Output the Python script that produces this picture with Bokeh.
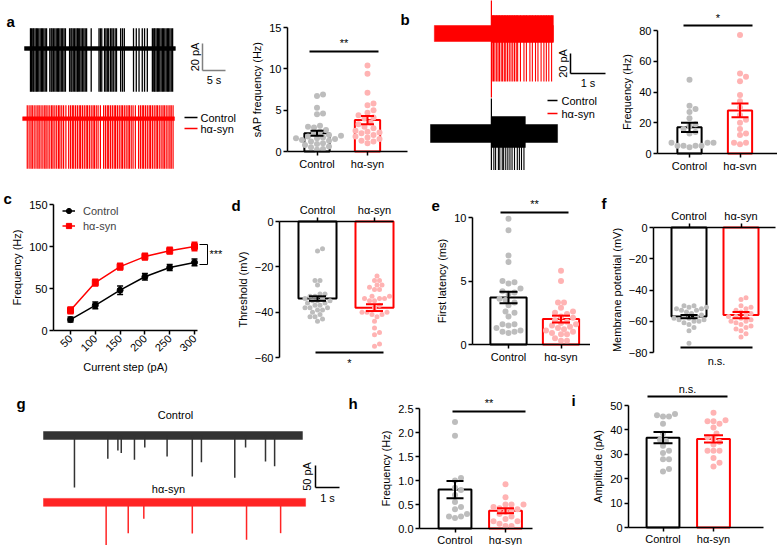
from math import pi
from bokeh.plotting import figure
from bokeh.layouts import column, row
from bokeh.models import (Range1d, Label, Whisker, TeeHead, ColumnDataSource,
                          FixedTicker, Legend, LegendItem, NumeralTickFormatter)
from bokeh.embed import file_html
from bokeh.resources import INLINE

FONT = "Liberation Sans"
BLACK = "#000000"
RED = "#ff0000"
GRAY = "#bdbdbd"
PINK = "#ffb3b3"
GROUPS = ["Control", "hα-syn"]

# ---------------- data ----------------
# a: spontaneous firing traces (s, pA)
a_ctrl_span = [0.0, 32.8]
a_ctrl_spikes = [1.3, 1.5, 1.8, 2.0, 2.3, 2.6, 2.8, 3.1, 3.4, 3.7, 3.9, 4.2, 4.5, 4.8,
                 5.5, 5.8, 6.0, 6.3, 6.6, 6.9, 7.2, 7.4, 7.7, 8.0, 8.3, 8.6, 8.9,
                 9.8, 10.1, 10.3, 10.6, 10.9, 11.2, 11.5, 11.7, 12.0, 12.3, 12.6, 12.9, 13.2, 13.5,
                 14.5,
                 16.2, 16.5, 16.8, 17.4, 17.7, 18.0, 18.3, 18.7, 19.0, 19.3, 19.7, 20.0,
                 20.9, 21.3, 21.7,
                 23.7, 24.3, 24.9, 25.6, 26.1, 26.7,
                 27.8, 28.1, 28.3, 28.6, 28.9, 29.1, 29.4, 29.7, 30.0, 30.2, 30.5, 30.8,
                 31.1, 31.3, 31.6, 31.9, 32.2]
a_ctrl_noise, a_ctrl_up, a_ctrl_down = 1.4, 15, -32
a_syn_span = [-0.4, 32.6]
a_syn_spikes = [0.6, 1.0, 1.4, 1.7, 2.1, 2.5, 2.9, 3.2, 3.6, 4.0, 4.4, 4.7, 5.1, 5.5, 5.9, 6.2,
                6.6, 7.0, 7.4, 7.7, 8.1, 8.5, 9.0,
                9.6, 10.0, 10.4, 10.7, 11.1, 11.5, 11.9, 12.2, 12.6, 13.0, 13.4, 13.7, 14.1,
                14.5, 14.9, 15.2, 15.6, 16.0, 16.5,
                17.2, 17.6, 18.0, 18.3, 18.7, 19.1, 19.5, 19.8, 20.2, 20.6, 21.0, 21.3, 21.7,
                22.1, 22.5, 22.8, 23.2, 23.6, 24.1,
                24.8, 25.2, 25.6, 25.9, 26.3, 26.7, 27.1, 27.4, 27.8, 28.2, 28.6, 28.9, 29.3,
                29.7, 30.1, 30.4, 30.8, 31.2, 31.6, 31.9, 32.3]
a_syn_noise, a_syn_up, a_syn_down = 1.4, 10, -37

# a: sAP frequency (Hz)
a_ctrl_vals = [6.9, 6.7, 5.3, 4.6, 4.5, 3.1, 3.0, 2.9, 2.6, 2.4, 2.2, 2.0, 1.9, 1.8, 1.7,
               1.6, 1.6, 1.5, 1.4, 1.3, 1.2, 1.0, 0.9, 0.8, 0.6, 0.5, 0.3, 0.2]
a_syn_vals = [10.4, 9.4, 7.1, 5.8, 5.6, 5.0, 4.7, 4.4, 4.1, 4.0, 3.5, 3.3, 3.0, 2.8, 2.5,
              2.4, 2.3, 2.2, 2.0, 1.8, 1.7, 1.5, 1.3, 1.2, 1.0]
a_mean = [2.2, 3.8]
a_sem = [0.3, 0.5]

# b: evoked firing traces (s, pA)
b_onset = 1.74
b_syn_span = [0.11, 3.51]
b_syn_noise = 8
b_syn_post_band = [-9, 18]
b_syn_spikes = [1.76, 1.80, 1.84, 1.89, 1.93, 1.97, 2.02, 2.06, 2.11, 2.15, 2.20, 2.25,
                2.30, 2.35, 2.40, 2.45, 2.49, 2.57, 2.67, 2.74, 2.84, 2.91, 3.00, 3.07,
                3.16, 3.24, 3.31, 3.38, 3.46]
b_syn_down = -48
b_syn_artifact = [-64, 40]
b_ctrl_span = [0.0, 3.63]
b_ctrl_noise = 9
b_ctrl_post_band = [-14, 17]
b_ctrl_post_end = 2.71
b_ctrl_spikes = [1.81, 1.86, 1.94, 1.98, 2.05, 2.09, 2.15, 2.21, 2.27, 2.33, 2.40, 2.48,
                 2.54, 2.60, 2.67]
b_ctrl_up, b_ctrl_down = 14, -42
b_ctrl_artifact = [-42, 35]

# b: frequency (Hz)
b_ctrl_vals = [48, 31, 29, 27, 23, 19, 18, 16, 14, 13, 7, 7, 7, 5, 5, 5, 5, 4]
b_syn_vals = [77, 52, 50, 47, 38, 34, 30, 25, 22, 20, 16, 13, 12, 7, 7, 6]
b_mean = [17, 28]
b_sem = [3, 4.5]

# c: frequency vs current step
c_steps = [50, 100, 150, 200, 250, 300]
c_ctrl = [13, 30, 48, 64, 75, 81]
c_ctrl_sem = [3, 4, 5, 4, 3.5, 4]
c_syn = [24, 57, 76, 88, 95, 100]
c_syn_sem = [4, 4, 4, 4, 4, 5]

# d: threshold (mV)
d_ctrl_vals = [-12, -13, -26, -26, -28, -32, -32, -33, -33, -34, -34, -35, -35, -35, -36,
               -36, -37, -37, -38, -38, -38, -39, -39, -40, -41, -42, -42, -43, -44]
d_syn_vals = [-24, -26, -26, -28, -28, -29, -30, -30, -33, -33, -34, -34, -34, -35, -35,
              -37, -38, -40, -40, -40, -41, -41, -42, -44, -47, -49, -50, -54, -55]
d_mean = [-34, -38]
d_sem = [1.0, 1.5]

# e: first latency (ms)
e_ctrl_vals = [9.9, 9.0, 7.0, 6.5, 5.0, 4.9, 4.8, 4.4, 4.2, 4.1, 4.0, 3.6, 3.5, 3.3, 3.1,
               2.6, 2.5, 2.2, 1.6, 1.6, 1.5, 1.3, 1.1, 1.0, 1.0, 0.9]
e_syn_vals = [5.8, 5.0, 3.3, 3.3, 2.9, 2.6, 2.5, 2.4, 2.2, 2.1, 1.9, 1.8, 1.7, 1.6, 1.5,
              1.4, 1.3, 1.2, 1.1, 1.0, 0.9, 0.8, 0.8, 0.5, 0.3, 0.3]
e_mean = [3.7, 2.0]
e_sem = [0.45, 0.27]

# f: membrane potential (mV)
f_ctrl_vals = [-50, -50, -51, -51, -52, -52, -53, -53, -54, -55, -56, -57, -57, -58, -58,
               -59, -59, -60, -60, -61, -62, -64, -66, -74]
f_syn_vals = [-45, -46, -50, -51, -52, -53, -54, -55, -56, -57, -57, -58, -59, -60, -60,
              -61, -62, -63, -64, -65, -66, -68, -70]
f_mean = [-57, -56]
f_sem = [1.0, 2.0]

# g: sEPSC traces (s, pA)
g_ctrl_span = [0.0, 10.79]
g_syn_span = [0.0, 10.92]
g_noise = 9
g_ctrl_t = [1.29, 2.68, 3.10, 3.24, 3.79, 4.22, 5.15, 6.20, 6.58, 7.97, 8.42, 9.25, 9.63]
g_ctrl_amp = [118, 53, 34, 40, 55, 27, 48, 93, 61, 96, 27, 59, 70]
g_syn_t = [2.61, 3.53, 4.18, 6.20, 8.46, 9.88]
g_syn_amp = [98, 70, 37, 71, 85, 70]

# h: frequency (Hz)
h_ctrl_vals = [2.22, 1.93, 1.05, 1.0, 0.85, 0.8, 0.7, 0.55, 0.45, 0.4, 0.3, 0.25, 0.25, 0.22]
h_syn_vals = [0.92, 0.65, 0.5, 0.5, 0.5, 0.45, 0.42, 0.4, 0.38, 0.35, 0.3, 0.25, 0.2, 0.15,
              0.15, 0.1, 0.05, 0.05]
h_mean = [0.81, 0.37]
h_sem = [0.18, 0.05]

# i: amplitude (pA)
i_ctrl_vals = [46.5, 46, 45.5, 45.5, 42.5, 38.5, 36, 35.5, 33.5, 31.5, 30.5, 28, 28, 24, 23]
i_syn_vals = [47, 44, 43.5, 43.5, 42.5, 41, 38.5, 37, 36.5, 35, 34, 31.5, 31.5, 31.5, 28.5,
              26.5, 25]
i_mean = [36.8, 36.3]
i_sem = [2.3, 1.5]

# ---------------- layout offsets (display only) ----------------
A_SYN_OFFSET = -52
B_CTRL_OFFSET = -100
G_SYN_OFFSET = -152


# ---------------- helpers ----------------
def style_axis(ax):
    ax.axis_line_width = 1.5
    ax.axis_line_color = "black"
    ax.major_tick_line_width = 1.5
    ax.major_tick_line_color = "black"
    ax.major_tick_out = 4
    ax.major_tick_in = 0
    ax.minor_tick_line_color = None
    ax.major_label_text_font = FONT
    ax.major_label_text_font_size = "11px"
    ax.major_label_text_color = "black"
    ax.major_label_standoff = 2
    ax.axis_label_text_font = FONT
    ax.axis_label_text_font_size = "11px"
    ax.axis_label_text_font_style = "normal"
    ax.axis_label_text_color = "black"
    ax.axis_label_standoff = 3


def panel(box, xmap, ymap, axes=None, x_loc="below"):
    """box in page px; axes = (y_axis_px, x_axis_py, (xb0_px, xb1_px), (yb0, yb1))"""
    x0, y0, x1, y1 = box
    (d1, p1), (d2, p2) = xmap
    (e1, q1), (e2, q2) = ymap
    kx = (p2 - p1) / (d2 - d1)
    ky = (q2 - q1) / (e2 - e1)

    def X(px):
        return d1 + (px - p1) / kx

    def Y(py):
        return e1 + (py - q1) / ky

    kw = {} if axes else dict(x_axis_type=None, y_axis_type=None)
    p = figure(width=x1 - x0, height=y1 - y0,
               x_range=Range1d(X(x0), X(x1)), y_range=Range1d(Y(y1), Y(y0)),
               output_backend="svg", toolbar_location=None, title=None,
               min_border_left=0, min_border_right=0, min_border_top=0,
               min_border_bottom=0, x_axis_location=x_loc, **kw)
    p.outline_line_color = None
    p.background_fill_color = "white"
    p.border_fill_color = "white"
    p.grid.visible = False
    if axes:
        ypx, xpy, (xb0, xb1), ybounds = axes
        for ax in p.axis:
            style_axis(ax)
        p.yaxis.fixed_location = X(ypx)
        p.yaxis.bounds = ybounds
        p.xaxis.fixed_location = Y(xpy)
        p.xaxis.bounds = (X(xb0), X(xb1))
    return p, X, Y, kx, ky


def txt(p, x, y, s, size="11px", align="center", baseline="middle", angle=0.0,
        bold=False):
    p.add_layout(Label(x=x, y=y, text=s, text_font=FONT, text_font_size=size,
                       text_align=align, text_baseline=baseline, angle=angle,
                       text_color="black",
                       text_font_style="bold" if bold else "normal"))


def letter(p, x, y, s):
    txt(p, x, y, s, size="15px", align="left", baseline="middle", bold=True)


def swarm(vals, kx, ky, d):
    placed = []
    res = [0.0] * len(vals)
    order = sorted(range(len(vals)), key=lambda i: vals[i])
    cands = [0.0]
    for j in range(1, 30):
        cands += [j * d * 0.5, -j * d * 0.5]
    for i in order:
        py = vals[i] * ky
        chosen = cands[-1]
        for c in cands:
            if all((c - qx) ** 2 + (py - qy) ** 2 >= (d * 0.95) ** 2 for qx, qy in placed):
                chosen = c
                break
        placed.append((chosen, py))
        res[i] = chosen / abs(kx)
    return res


def bars(p, kx, ky, ctrl_vals, syn_vals, means, sems, width, dot=6, cap=16):
    groups = [(1, ctrl_vals, means[0], sems[0], BLACK, GRAY),
              (2, syn_vals, means[1], sems[1], RED, PINK)]
    for xc, vals, m, s, col, dcol in groups:
        p.vbar(x=[xc], width=width, top=[max(m, 0)], bottom=[min(m, 0)],
               fill_color=None, line_color=col, line_width=2)
    for xc, vals, m, s, col, dcol in groups:
        offs = swarm(vals, kx, ky, dot)
        p.scatter(x=[xc + o for o in offs], y=vals, size=dot, marker="circle",
                  fill_color=dcol, line_color=None)
    for xc, vals, m, s, col, dcol in groups:
        src = ColumnDataSource(dict(x=[xc], lo=[m - s], hi=[m + s]))
        w = Whisker(source=src, base="x", lower="lo", upper="hi", line_color=col,
                    line_width=2, level="overlay",
                    upper_head=TeeHead(size=cap, line_color=col, line_width=2),
                    lower_head=TeeHead(size=cap, line_color=col, line_width=2))
        p.add_layout(w)
    p.xaxis.ticker = FixedTicker(ticks=[1, 2])
    p.xaxis.major_label_overrides = {1: GROUPS[0], 2: GROUPS[1]}


def sig(p, X, Y, xa, xb, yl, label, ylab, baseline="middle"):
    p.segment(x0=[X(xa)], y0=[Y(yl)], x1=[X(xb)], y1=[Y(yl)], line_color="black",
              line_width=2)
    txt(p, X((xa + xb) / 2), Y(ylab), label, baseline=baseline)


def trace_band(p, span, lo, hi, color):
    p.quad(left=[span[0]], right=[span[1]], bottom=[lo], top=[hi],
           fill_color=color, line_color=color, line_width=0.5)


# ================= Row 1 =================
# --- a traces ---
pa1, X, Y, kx, ky = panel((0, 0, 245, 170), ((0, 24), (5, 47)), ((0, 48), (20, 21)))
trace_band(pa1, a_ctrl_span, -a_ctrl_noise, a_ctrl_noise, BLACK)
pa1.segment(x0=a_ctrl_spikes, x1=a_ctrl_spikes, y0=[a_ctrl_down] * len(a_ctrl_spikes),
            y1=[a_ctrl_up] * len(a_ctrl_spikes), line_color=BLACK, line_width=1.3)
trace_band(pa1, a_syn_span, A_SYN_OFFSET - a_syn_noise, A_SYN_OFFSET + a_syn_noise, RED)
pa1.segment(x0=a_syn_spikes, x1=a_syn_spikes,
            y0=[A_SYN_OFFSET + a_syn_down] * len(a_syn_spikes),
            y1=[A_SYN_OFFSET + a_syn_up] * len(a_syn_spikes), line_color=RED, line_width=1.2)
sbx, sby = X(202), Y(70)
pa1.segment(x0=[sbx, sbx], y0=[sby, sby], x1=[sbx, sbx + 5], y1=[sby + 20, sby],
            line_color="#808080", line_width=1.5)
txt(pa1, X(194), Y(56.5), "20 pA", angle=pi / 2)
txt(pa1, X(213.5), Y(79), "5 s")
pa1.segment(x0=[X(184), X(184)], x1=[X(197), X(197)], y0=[Y(117), Y(128)],
            y1=[Y(117), Y(128)], line_color=[BLACK, RED], line_width=1.5)
txt(pa1, X(200), Y(117), GROUPS[0], align="left")
txt(pa1, X(200), Y(128), GROUPS[1], align="left")
letter(pa1, X(6), Y(21), "a")

# --- a bars ---
pa2, X, Y, kx, ky = panel((245, 0, 410, 170), ((1, 316.5), (2, 367)), ((0, 151), (15, 27)),
                          axes=(287, 151, (287, 407), (0, 15)))
bars(pa2, kx, ky, a_ctrl_vals, a_syn_vals, a_mean, a_sem, width=0.5, dot=6, cap=13)
pa2.yaxis.ticker = FixedTicker(ticks=[0, 5, 10, 15])
pa2.yaxis.axis_label = "sAP frequency (Hz)"
sig(pa2, X, Y, 309, 378, 51, "**", 42)
letter(pa2, X(400), Y(19), "b")

# --- b traces ---
pb1, X, Y, kx, ky = panel((410, 0, 620, 170), ((0, 430), (1, 465)), ((0, 33), (20, 13)))
trace_band(pb1, b_syn_span, -b_syn_noise, b_syn_noise, RED)
trace_band(pb1, [b_onset, b_syn_span[1]], b_syn_post_band[0], b_syn_post_band[1], RED)
pb1.segment(x0=b_syn_spikes, x1=b_syn_spikes, y0=[b_syn_down] * len(b_syn_spikes),
            y1=[b_syn_post_band[1]] * len(b_syn_spikes), line_color=RED, line_width=1.1)
pb1.segment(x0=[b_onset], x1=[b_onset], y0=[b_syn_artifact[0]], y1=[b_syn_artifact[1]],
            line_color=RED, line_width=1.2)
trace_band(pb1, b_ctrl_span, B_CTRL_OFFSET - b_ctrl_noise, B_CTRL_OFFSET + b_ctrl_noise, BLACK)
trace_band(pb1, [b_onset, b_ctrl_post_end], B_CTRL_OFFSET + b_ctrl_post_band[0],
           B_CTRL_OFFSET + b_ctrl_post_band[1], BLACK)
pb1.segment(x0=b_ctrl_spikes, x1=b_ctrl_spikes,
            y0=[B_CTRL_OFFSET + b_ctrl_down] * len(b_ctrl_spikes),
            y1=[B_CTRL_OFFSET + b_ctrl_up] * len(b_ctrl_spikes), line_color=BLACK,
            line_width=1.1)
pb1.segment(x0=[b_onset], x1=[b_onset], y0=[B_CTRL_OFFSET + b_ctrl_artifact[0]],
            y1=[B_CTRL_OFFSET + b_ctrl_artifact[1]], line_color=BLACK, line_width=1.2)
sbx, sby = X(570), Y(73)
pb1.segment(x0=[sbx, sbx], y0=[sby, sby], x1=[sbx, sbx + 1], y1=[sby + 20, sby],
            line_color="black", line_width=1.5)
txt(pb1, X(562), Y(63), "20 pA", angle=pi / 2)
txt(pb1, X(587.5), Y(82), "1 s")
pb1.segment(x0=[X(547), X(547)], x1=[X(557), X(557)], y0=[Y(100), Y(113)],
            y1=[Y(100), Y(113)], line_color=[BLACK, RED], line_width=1.5)
txt(pb1, X(561), Y(100), GROUPS[0], align="left")
txt(pb1, X(561), Y(113), GROUPS[1], align="left")

# --- b bars ---
pb2, X, Y, kx, ky = panel((620, 0, 777, 170), ((1, 689), (2, 739.5)), ((0, 153), (80, 30)),
                          axes=(657, 153, (657, 777), (0, 80)))
bars(pb2, kx, ky, b_ctrl_vals, b_syn_vals, b_mean, b_sem, width=0.48, dot=6, cap=17)
pb2.yaxis.ticker = FixedTicker(ticks=[0, 20, 40, 60, 80])
pb2.yaxis.axis_label = "Frequency (Hz)"
sig(pb2, X, Y, 683, 752, 25, "*", 17)

# ================= Row 2 =================
# --- c ---
pc, X, Y, kx, ky = panel((0, 170, 225, 383), ((50, 70), (300, 194)), ((0, 330), (150, 204)),
                         axes=(53, 330, (53, 197), (0, 150)))
lc = pc.line(c_steps, c_ctrl, line_color=BLACK, line_width=1.5)
sc = pc.scatter(c_steps, c_ctrl, marker="circle", size=6, color=BLACK)
ls = pc.line(c_steps, c_syn, line_color=RED, line_width=1.5)
ss = pc.scatter(c_steps, c_syn, marker="square", size=6, color=RED)
for vals, sems, col in [(c_ctrl, c_ctrl_sem, BLACK), (c_syn, c_syn_sem, RED)]:
    src = ColumnDataSource(dict(x=c_steps, lo=[v - s for v, s in zip(vals, sems)],
                                hi=[v + s for v, s in zip(vals, sems)]))
    pc.add_layout(Whisker(source=src, base="x", lower="lo", upper="hi", line_color=col,
                          line_width=1.5, level="overlay",
                          upper_head=TeeHead(size=6, line_color=col, line_width=1.5),
                          lower_head=TeeHead(size=6, line_color=col, line_width=1.5)))
pc.xaxis.ticker = FixedTicker(ticks=c_steps)
pc.xaxis.major_label_orientation = pi / 4
pc.yaxis.ticker = FixedTicker(ticks=[0, 50, 100, 150])
pc.xaxis.axis_label = "Current step (pA)"
pc.yaxis.axis_label = "Frequency (Hz)"
leg = Legend(items=[LegendItem(label=GROUPS[0], renderers=[lc, sc]),
                    LegendItem(label=GROUPS[1], renderers=[ls, ss])],
             location=(62, 383 - 233), glyph_width=13, glyph_height=15, label_height=15,
             spacing=0, padding=0, margin=0, border_line_color=None,
             background_fill_alpha=0, label_text_font=FONT, label_text_font_size="11px",
             label_standoff=8)
pc.add_layout(leg)
pc.segment(x0=[X(199), X(207), X(199)], y0=[Y(244), Y(244), Y(264)],
           x1=[X(207), X(207), X(207)], y1=[Y(244), Y(264), Y(264)],
           line_color="black", line_width=1)
txt(pc, X(209), Y(253), "***", align="left")
letter(pc, X(3), Y(198), "c")

# --- d ---
pd, X, Y, kx, ky = panel((225, 170, 395, 383), ((1, 317), (2, 374)), ((0, 221), (-60, 357)),
                         axes=(279, 221, (279, 393), (-60, 0)), x_loc="above")
bars(pd, kx, ky, d_ctrl_vals, d_syn_vals, d_mean, d_sem, width=0.667, dot=5, cap=17)
pd.yaxis.ticker = FixedTicker(ticks=[0, -20, -40, -60])
pd.yaxis.axis_label = "Threshold (mV)"
sig(pd, X, Y, 315, 383, 352, "*", 362)
letter(pd, X(231), Y(205), "d")

# --- e ---
pe, X, Y, kx, ky = panel((395, 170, 590, 383), ((1, 508), (2, 560.5)), ((0, 344), (10, 217)),
                         axes=(472, 344, (472, 590), (0, 10)))
bars(pe, kx, ky, e_ctrl_vals, e_syn_vals, e_mean, e_sem, width=0.69, dot=6, cap=18)
pe.yaxis.ticker = FixedTicker(ticks=[0, 5, 10])
pe.yaxis.axis_label = "First latency (ms)"
sig(pe, X, Y, 500, 568, 212, "**", 203)
letter(pe, X(431), Y(205), "e")

# --- f ---
pf, X, Y, kx, ky = panel((590, 170, 777, 383), ((1, 688.5), (2, 740.5)),
                         ((0, 227), (-80, 352)),
                         axes=(653, 227, (653, 775), (-80, 0)), x_loc="above")
bars(pf, kx, ky, f_ctrl_vals, f_syn_vals, f_mean, f_sem, width=0.673, dot=5, cap=17)
pf.yaxis.ticker = FixedTicker(ticks=[0, -20, -40, -60, -80])
pf.yaxis.axis_label = "Membrane potential (mV)"
sig(pf, X, Y, 680, 752, 347, "n.s.", 360)
letter(pf, X(601), Y(203), "f")

# ================= Row 3 =================
# --- g traces ---
pg, X, Y, kx, ky = panel((0, 383, 345, 545), ((0, 43), (1, 67)), ((0, 435), (50, 413)))
GBLK = "#333333"
GRED = "#ff2424"
trace_band(pg, g_ctrl_span, -g_noise, g_noise, GBLK)
pg.segment(x0=g_ctrl_t, x1=g_ctrl_t, y0=[0] * len(g_ctrl_t), y1=[-a for a in g_ctrl_amp],
           line_color=GBLK, line_width=1.5)
trace_band(pg, g_syn_span, G_SYN_OFFSET - g_noise, G_SYN_OFFSET + g_noise, GRED)
pg.segment(x0=g_syn_t, x1=g_syn_t, y0=[G_SYN_OFFSET] * len(g_syn_t),
           y1=[G_SYN_OFFSET - a for a in g_syn_amp], line_color=GRED, line_width=1.5)
sbx, sby = X(315), Y(487)
pg.segment(x0=[sbx, sbx], y0=[sby, sby], x1=[sbx, sbx + 1], y1=[sby + 50, sby],
           line_color="black", line_width=1.5)
txt(pg, X(306), Y(476), "50 pA", angle=pi / 2)
txt(pg, X(327), Y(497), "1 s")
txt(pg, X(175), Y(414), GROUPS[0])
txt(pg, X(168), Y(488), GROUPS[1])
letter(pg, X(16), Y(403), "g")

# --- h ---
ph, X, Y, kx, ky = panel((345, 383, 555, 545), ((1, 454.5), (2, 505)), ((0, 528), (2.5, 408)),
                         axes=(419, 528, (419, 532), (0, 2.5)))
bars(ph, kx, ky, h_ctrl_vals, h_syn_vals, h_mean, h_sem, width=0.65, dot=6, cap=17)
ph.yaxis.ticker = FixedTicker(ticks=[0, 0.5, 1.0, 1.5, 2.0, 2.5])
ph.yaxis.formatter = NumeralTickFormatter(format="0.0")
ph.yaxis.axis_label = "Frequency (Hz)"
ph.xaxis.major_label_standoff = 1
sig(ph, X, Y, 452, 525, 411, "**", 402)
letter(ph, X(348), Y(403), "h")

# --- i ---
pi_, X, Y, kx, ky = panel((555, 383, 777, 545), ((1, 662.5), (2, 713)), ((0, 527), (50, 405)),
                          axes=(628, 527, (628, 763), (0, 50)))
bars(pi_, kx, ky, i_ctrl_vals, i_syn_vals, i_mean, i_sem, width=0.65, dot=6, cap=19)
pi_.yaxis.ticker = FixedTicker(ticks=[0, 10, 20, 30, 40, 50])
pi_.yaxis.axis_label = "Amplitude (pA)"
pi_.xaxis.major_label_standoff = 1
sig(pi_, X, Y, 647, 727, 396, "n.s.", 388)
letter(pi_, X(571), Y(400), "i")

layout = column(row(pa1, pa2, pb1, pb2), row(pc, pd, pe, pf), row(pg, ph, pi_))
open("out.html", "w").write(file_html(layout, INLINE))
